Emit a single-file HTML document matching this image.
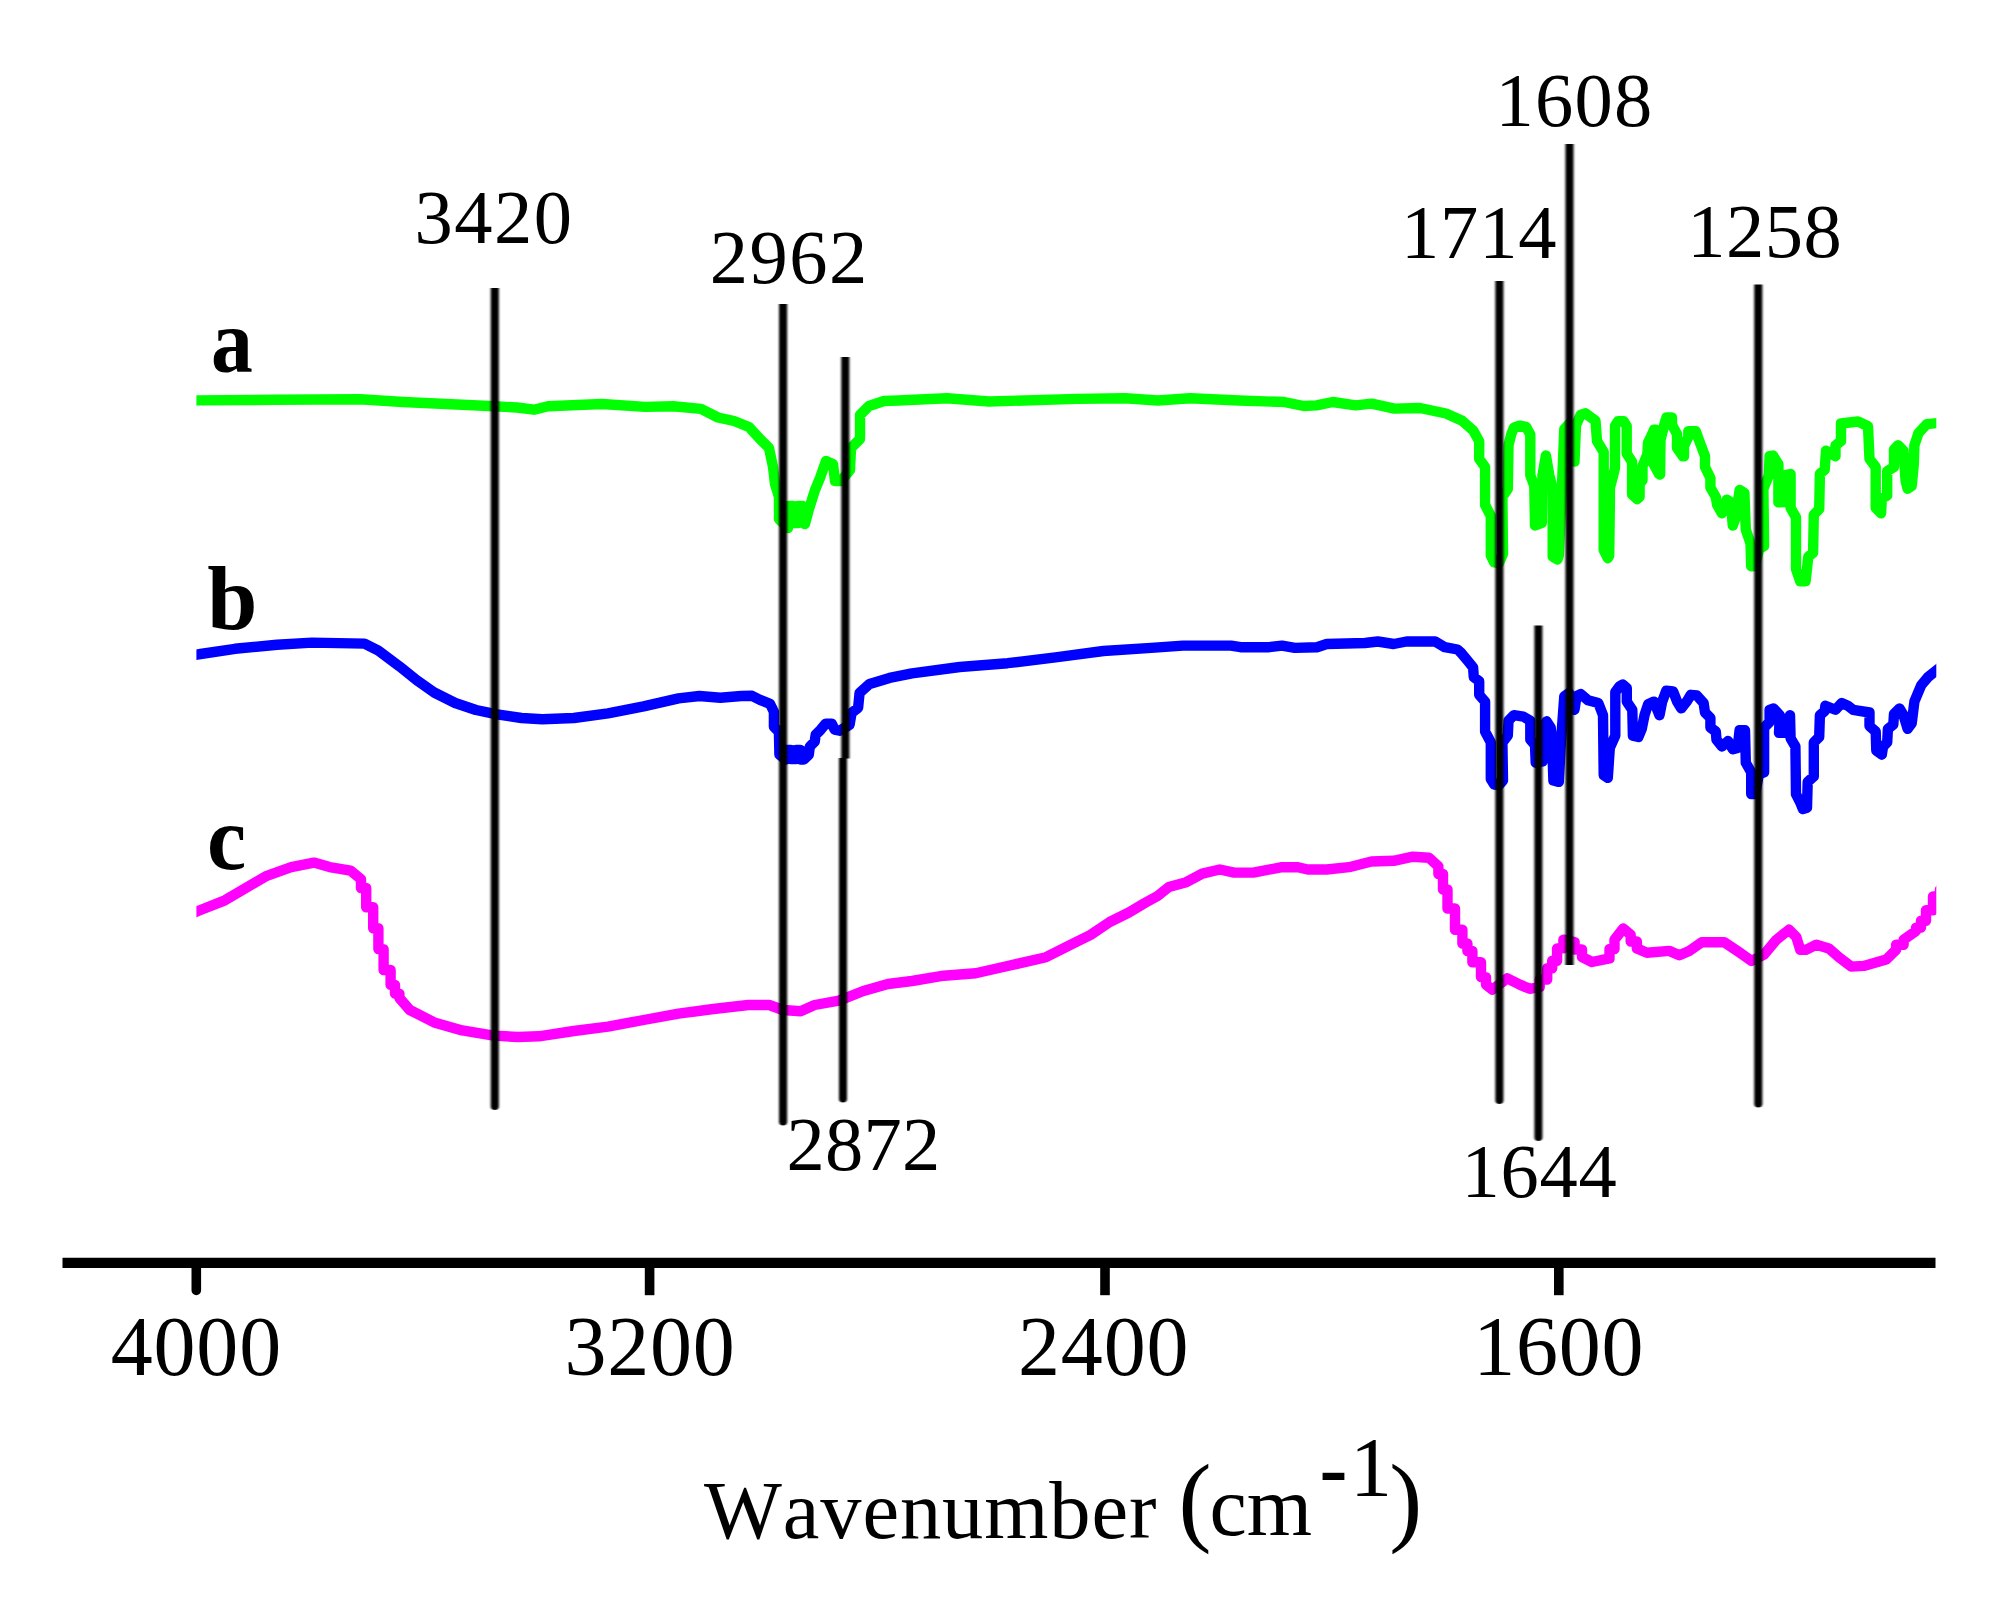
<!DOCTYPE html>
<html><head><meta charset="utf-8"><title>FTIR spectra</title>
<style>html,body{margin:0;padding:0;background:#fff;overflow:hidden}svg{display:block}text{font-kerning:none}</style></head>
<body>
<svg width="2006" height="1617" viewBox="0 0 2006 1617">
<rect width="2006" height="1617" fill="#fff"/>
<defs><clipPath id="cp"><rect x="196.4" y="0" width="1739.9" height="1617"/></clipPath><filter id="soft" filterUnits="userSpaceOnUse" x="0" y="0" width="2006" height="1617"><feGaussianBlur stdDeviation="0.8 0.4"/></filter></defs>
<polyline points="190.0,400.4 197.0,400.4 275.0,399.8 360.0,399.2 403.0,402.0 446.0,404.0 494.0,406.3 517.0,407.5 534.0,409.7 548.0,406.3 602.0,404.0 645.0,406.9 673.0,406.3 701.0,408.9 718.0,417.5 734.0,421.0 749.0,427.0 760.0,439.0 769.0,448.0 773.0,467.0 775.0,484.0 779.0,497.0 779.0,519.0 788.0,528.0 788.5,506.0 793.0,506.0 793.0,523.0 798.0,523.0 798.0,506.0 802.5,506.0 803.0,523.0 805.0,524.0 809.0,509.0 815.0,490.0 820.0,478.0 826.0,461.0 833.0,464.0 835.0,481.0 841.0,481.0 850.0,470.0 851.0,448.0 860.0,439.0 860.0,415.0 869.0,406.0 884.0,401.0 898.1,400.5 947.0,398.2 989.0,401.5 1077.0,398.9 1125.0,398.2 1158.0,400.5 1190.0,398.2 1239.0,400.5 1284.0,402.0 1303.7,406.0 1316.6,405.4 1332.8,402.0 1355.5,405.4 1371.7,403.7 1394.4,408.6 1420.0,408.0 1446.0,413.5 1462.2,420.8 1473.1,430.3 1479.2,441.2 1479.2,458.9 1485.1,467.0 1485.1,505.0 1490.8,516.0 1490.8,555.5 1494.2,562.3 1499.0,563.0 1503.0,554.0 1502.4,497.0 1507.8,488.8 1508.5,445.3 1511.2,434.4 1513.9,427.6 1519.4,425.6 1526.2,426.9 1530.3,434.4 1530.3,475.2 1534.3,486.0 1535.0,525.5 1541.8,522.8 1542.5,475.2 1545.9,455.5 1549.3,475.2 1552.7,488.8 1552.7,556.8 1557.5,559.5 1558.8,555.5 1561.5,497.0 1564.3,429.0 1569.0,424.0 1574.5,461.6 1576.0,425.0 1580.6,415.0 1585.3,413.3 1595.5,420.8 1597.0,441.0 1603.7,452.0 1603.7,550.0 1607.8,558.2 1609.2,555.5 1609.9,500.0 1609.9,487.8 1612.8,477.0 1615.0,467.7 1615.0,426.0 1618.0,421.1 1623.7,421.1 1626.7,426.0 1626.7,453.6 1632.1,461.8 1632.1,494.4 1637.0,499.1 1639.6,497.0 1639.6,483.3 1642.5,480.3 1642.5,466.2 1647.3,454.4 1648.0,442.5 1651.0,436.6 1654.0,429.7 1656.0,429.7 1653.0,463.0 1659.0,474.0 1660.1,474.6 1660.5,440.0 1665.0,422.0 1666.5,417.4 1672.0,417.4 1672.0,425.0 1677.0,434.0 1677.0,448.0 1683.0,456.4 1684.0,456.4 1684.0,446.0 1688.3,437.0 1688.3,431.1 1695.7,431.1 1700.9,445.3 1705.0,456.2 1705.0,467.0 1710.4,478.0 1710.4,487.5 1715.8,497.0 1717.2,505.0 1722.0,513.3 1726.7,499.7 1730.8,502.4 1732.8,525.5 1736.2,516.0 1739.6,490.0 1744.4,492.9 1745.8,529.6 1750.5,543.2 1751.2,566.3 1755.0,566.0 1759.0,549.0 1764.1,546.0 1763.4,488.8 1768.9,475.2 1769.6,456.2 1773.0,455.5 1778.4,464.3 1778.4,502.4 1785.0,502.0 1785.0,475.0 1790.6,474.0 1790.6,507.9 1796.0,517.4 1796.0,569.0 1800.2,581.3 1805.6,581.3 1808.3,556.8 1813.1,552.7 1813.8,514.7 1819.2,509.2 1819.9,473.8 1824.7,469.8 1826.0,450.7 1835.5,456.2 1835.5,445.3 1841.0,441.2 1841.0,423.5 1858.0,421.5 1868.0,426.2 1869.5,458.9 1875.7,467.0 1875.7,507.9 1881.1,513.3 1881.8,498.3 1887.2,495.6 1887.2,471.1 1894.0,467.0 1894.0,449.4 1898.1,445.3 1903.5,450.7 1905.6,480.7 1907.6,488.8 1911.7,486.0 1913.8,464.3 1914.4,445.3 1918.5,433.0 1926.7,424.2 1940.0,422.8" fill="none" stroke="#00ff00" stroke-width="10.4" stroke-linejoin="round" stroke-linecap="round" clip-path="url(#cp)"/>
<polyline points="190.0,655.6 200.5,654.0 235.0,648.8 277.0,644.7 312.0,642.6 364.5,643.6 378.4,650.6 399.4,666.3 416.8,680.3 434.2,692.5 455.2,703.0 476.0,710.0 497.0,714.4 521.5,718.0 542.4,719.3 573.8,718.0 608.0,713.4 643.6,706.4 678.5,698.4 699.4,696.0 720.4,697.7 741.3,696.0 752.0,695.8 760.0,699.8 770.0,703.8 773.9,711.8 773.9,726.7 778.9,731.7 779.4,754.7 785.8,759.6 786.0,750.0 791.0,750.0 791.0,759.0 796.0,759.0 796.0,750.0 800.5,750.0 800.5,759.5 803.8,759.6 808.8,754.7 809.8,746.7 814.7,741.7 815.7,734.7 820.7,729.7 825.7,723.7 831.7,723.7 834.7,729.7 839.7,730.7 849.6,724.7 851.6,712.8 858.1,707.8 859.6,692.8 869.6,683.9 889.5,677.9 912.0,673.4 959.8,667.0 1007.6,663.2 1055.5,657.4 1103.4,651.0 1151.2,647.9 1183.0,645.6 1231.0,645.6 1240.6,647.2 1269.3,647.2 1282.0,645.6 1294.8,647.9 1317.0,647.2 1326.7,644.0 1365.0,643.0 1377.8,641.5 1393.7,644.0 1406.5,641.5 1435.2,641.5 1444.8,647.2 1457.5,649.5 1460.9,652.6 1467.7,660.8 1473.1,667.6 1473.8,677.1 1479.2,681.2 1479.2,694.8 1485.1,701.6 1485.1,731.5 1490.8,742.4 1490.8,779.1 1494.2,784.6 1499.0,785.0 1503.0,780.5 1502.4,742.4 1507.8,735.6 1508.5,720.7 1513.9,715.2 1523.4,716.6 1530.3,720.7 1530.3,739.7 1535.0,745.1 1535.7,762.8 1542.5,761.5 1543.2,726.1 1546.6,721.3 1550.7,727.5 1552.0,739.7 1553.4,780.5 1558.8,781.9 1560.9,742.4 1564.3,696.2 1569.0,693.0 1574.5,709.8 1576.5,696.2 1580.6,694.1 1588.0,700.3 1598.3,703.0 1603.0,715.2 1603.7,775.1 1607.8,777.8 1609.8,747.9 1615.3,735.6 1615.3,692.1 1619.3,686.6 1622.7,684.6 1626.8,688.0 1626.8,701.6 1632.3,709.8 1632.9,735.6 1638.4,737.0 1641.8,728.8 1644.5,715.2 1648.1,704.3 1654.0,701.6 1659.5,715.2 1662.2,701.6 1666.3,690.7 1673.1,691.4 1677.1,701.6 1681.2,708.4 1686.7,701.6 1690.7,694.8 1696.8,695.5 1703.6,703.0 1705.0,712.5 1710.4,717.9 1710.4,727.5 1715.8,731.5 1716.5,739.7 1722.0,746.5 1728.0,741.0 1732.8,749.2 1737.6,747.9 1739.6,730.2 1745.0,730.2 1745.8,762.8 1751.2,772.3 1751.2,794.1 1755.0,794.0 1759.0,774.0 1764.1,772.3 1764.1,727.5 1769.6,722.0 1769.6,709.8 1773.6,708.4 1779.8,715.2 1779.0,732.9 1785.2,732.9 1790.0,715.2 1790.6,738.3 1795.4,746.5 1796.0,794.1 1800.2,802.3 1802.9,809.0 1807.0,807.7 1807.7,781.9 1813.8,776.4 1813.8,742.4 1819.2,737.0 1819.9,715.2 1824.7,711.1 1825.3,705.7 1835.5,709.8 1841.7,703.0 1847.8,705.7 1853.2,709.8 1869.5,712.5 1869.5,726.1 1875.7,731.5 1876.3,750.6 1881.8,754.7 1883.1,746.5 1887.2,742.4 1887.9,728.8 1893.3,724.7 1894.0,713.9 1899.5,708.4 1903.5,715.2 1907.6,728.8 1911.7,723.4 1914.4,701.6 1921.2,685.3 1928.0,677.1 1940.0,667.5" fill="none" stroke="#0000ff" stroke-width="10.4" stroke-linejoin="round" stroke-linecap="round" clip-path="url(#cp)"/>
<polyline points="190.0,914.2 200.5,910.0 224.9,900.3 245.8,888.0 266.8,875.8 291.2,867.1 313.9,862.6 329.6,867.1 350.5,870.6 361.0,879.3 361.0,888.0 366.2,888.0 366.2,896.8 366.2,907.2 373.2,907.2 373.2,917.7 373.2,928.2 378.4,928.2 378.4,938.6 378.4,949.1 383.6,949.1 383.6,959.6 383.6,970.0 390.6,970.0 390.6,980.5 390.6,984.9 395.0,984.9 395.0,993.6 399.4,993.6 399.4,998.0 409.8,1010.0 434.2,1022.4 462.2,1030.4 493.6,1035.6 518.0,1037.0 538.9,1036.3 573.8,1031.0 608.0,1026.6 643.6,1020.0 678.5,1013.7 713.4,1009.0 748.3,1005.0 769.2,1005.0 783.0,1010.0 800.6,1011.2 814.6,1005.0 839.0,1000.7 863.4,991.0 887.9,984.0 912.0,981.0 943.8,975.7 975.7,973.2 1007.6,966.0 1046.0,957.2 1071.4,944.4 1090.6,934.9 1109.7,922.0 1128.9,912.5 1144.8,903.0 1157.6,896.0 1168.8,887.0 1186.3,882.2 1202.3,873.6 1219.8,869.5 1234.2,872.6 1253.3,872.6 1282.0,867.2 1298.0,867.2 1307.6,869.5 1326.7,869.5 1349.0,867.2 1371.4,861.5 1393.7,860.8 1412.9,856.7 1428.8,857.7 1438.4,866.3 1438.4,874.0 1443.0,874.0 1443.0,889.5 1447.5,889.5 1447.5,897.3 1447.5,908.5 1455.0,908.5 1455.0,919.8 1455.0,929.8 1462.4,929.8 1462.4,939.7 1462.4,943.5 1467.4,943.5 1467.4,951.0 1472.4,951.0 1472.4,954.7 1472.4,962.2 1481.0,962.2 1481.0,969.6 1481.0,977.1 1486.0,977.1 1486.0,984.6 1492.3,989.6 1507.3,978.3 1519.8,984.6 1529.7,988.8 1539.7,987.0 1539.7,979.5 1547.2,979.5 1547.2,972.0 1547.2,968.2 1552.2,968.2 1552.2,960.8 1557.1,960.8 1557.1,957.0 1557.1,948.4 1563.4,948.4 1563.4,939.7 1574.6,942.0 1574.6,949.5 1582.0,949.5 1582.0,957.0 1592.0,962.0 1609.5,958.4 1609.5,949.0 1614.5,949.0 1614.5,939.7 1623.2,928.5 1630.7,934.7 1630.7,941.5 1636.9,941.5 1636.9,948.4 1646.9,952.7 1669.3,950.9 1679.3,955.2 1689.2,950.9 1701.7,942.2 1724.1,942.2 1739.1,952.2 1751.6,960.9 1764.0,954.7 1776.5,939.7 1789.0,929.7 1796.4,937.2 1800.2,949.7 1806.4,949.7 1816.4,944.7 1828.8,948.4 1838.8,957.2 1851.3,966.6 1863.7,965.9 1886.2,959.6 1896.1,949.7 1896.1,944.7 1903.6,944.7 1903.6,939.7 1916.0,931.0 1916.0,927.6 1921.0,927.6 1921.0,920.7 1926.0,920.7 1926.0,917.3 1926.0,910.3 1933.0,910.3 1933.0,896.5 1940.0,896.5 1940.0,889.5" fill="none" stroke="#ff00ff" stroke-width="10.4" stroke-linejoin="round" stroke-linecap="round" clip-path="url(#cp)"/>
<g filter="url(#soft)">
<path d="M490.75,288 H498.85 V1105.95 A4.05,4.05 0 0 1 490.75,1105.95 Z" fill="#000"/>
<path d="M779.05,304 H787.15 V1121.45 A4.05,4.05 0 0 1 779.05,1121.45 Z" fill="#000"/>
<path d="M841.25,357 H849.35 V758.5 H841.25 Z" fill="#000"/>
<path d="M839.00,758 H847.00 V1098.50 A4.0,4.0 0 0 1 839.00,1098.50 Z" fill="#000"/>
<path d="M1495.35,281 H1503.45 V1099.95 A4.05,4.05 0 0 1 1495.35,1099.95 Z" fill="#000"/>
<path d="M1534.40,625.5 H1542.40 V1137.00 A4.0,4.0 0 0 1 1534.40,1137.00 Z" fill="#000"/>
<path d="M1565.45,144 H1573.55 V965 H1565.45 Z" fill="#000"/>
<path d="M1754.25,284.5 H1762.35 V1103.45 A4.05,4.05 0 0 1 1754.25,1103.45 Z" fill="#000"/>
</g>
<line x1="62.5" y1="1262.9" x2="1935.5" y2="1262.9" stroke="#000" stroke-width="10.3"/>
<path d="M191.5,1262 H201.10000000000002 V1290.4 A4.8,4.8 0 0 1 191.5,1290.4 Z" fill="#000"/>
<rect x="644.8000000000001" y="1262" width="9.6" height="33.2" fill="#000"/>
<rect x="1100.2" y="1262" width="9.6" height="33.2" fill="#000"/>
<rect x="1554.0" y="1262" width="9.6" height="33.2" fill="#000"/>
<text x="110.76" y="1374.5" font-size="84" letter-spacing="0.8" font-family="'Liberation Serif', serif">4000</text>
<text x="564.38" y="1374.5" font-size="84" letter-spacing="0.8" font-family="'Liberation Serif', serif">3200</text>
<text x="1018.05" y="1374.5" font-size="84" letter-spacing="0.8" font-family="'Liberation Serif', serif">2400</text>
<text x="1473.20" y="1374.5" font-size="84" letter-spacing="0.8" font-family="'Liberation Serif', serif">1600</text>
<text x="414.57" y="242.5" font-size="76.5" letter-spacing="1.5" font-family="'Liberation Serif', serif">3420</text>
<text x="709.67" y="282.5" font-size="76.5" letter-spacing="1.5" font-family="'Liberation Serif', serif">2962</text>
<text x="1401.05" y="258" font-size="76.5" letter-spacing="0.8" font-family="'Liberation Serif', serif">1714</text>
<text x="1495.59" y="126" font-size="76.5" letter-spacing="1.2" font-family="'Liberation Serif', serif">1608</text>
<text x="1687.34" y="257" font-size="76.5" letter-spacing="0.5" font-family="'Liberation Serif', serif">1258</text>
<text x="786.47" y="1169.5" font-size="76.5" letter-spacing="0.3" font-family="'Liberation Serif', serif">2872</text>
<text x="1461.60" y="1197" font-size="76.5" letter-spacing="0.7" font-family="'Liberation Serif', serif">1644</text>
<text transform="translate(211.1,372.2) scale(0.92,1)" font-size="91" font-weight="bold" font-family="'Liberation Serif', serif">a</text>
<text transform="translate(207.3,629) scale(0.99,1)" font-size="91" font-weight="bold" font-family="'Liberation Serif', serif">b</text>
<text transform="translate(207,869) scale(0.97,1)" font-size="91" font-weight="bold" font-family="'Liberation Serif', serif">c</text>
<text font-family="'Liberation Serif', serif"><tspan x="704" y="1538" font-size="82.5" letter-spacing="0.9">Wavenumber </tspan><tspan x="1178.6" y="1533" font-size="99">(</tspan><tspan x="1209.5" y="1534.5" font-size="84">cm</tspan><tspan x="1319.5" y="1496" font-size="84" font-weight="bold">-</tspan><tspan x="1350" y="1496" font-size="84">1</tspan><tspan x="1389.2" y="1533" font-size="99">)</tspan></text>
</svg>
</body></html>
